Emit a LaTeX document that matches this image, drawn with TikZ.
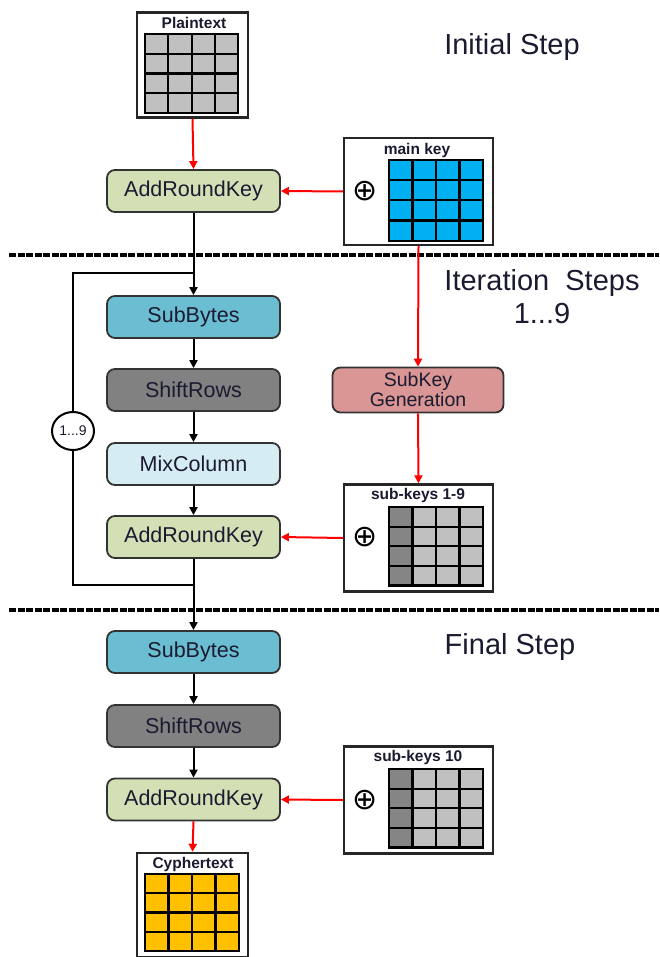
\documentclass[tikz,border=0pt]{standalone}
\usepackage{fontspec}
\setmainfont{Liberation Sans}
\newfontfamily\djv{DejaVu Sans}
\usetikzlibrary{arrows.meta,shapes.geometric}
\definecolor{arkc}{HTML}{D3E0B6}
\definecolor{sbc}{HTML}{6BBDD2}
\definecolor{src}{HTML}{818181}
\definecolor{mcc}{HTML}{D6ECF3}
\definecolor{skg}{HTML}{D99694}
\definecolor{bordc}{HTML}{333333}
\definecolor{cellg}{HTML}{C0C0C0}
\definecolor{celld}{HTML}{858585}
\definecolor{cellb}{HTML}{00B0F0}
\definecolor{cello}{HTML}{FFC000}
\definecolor{txtc}{HTML}{1A1A30}
\newcommand\kgrid[7]{% x0 y0 cellw cellh firstcol othercol
  \foreach \ci in {0,...,3}{\foreach \ri in {0,...,3}{
    \ifnum\ci=0 \def\cc{#5}\else\def\cc{#6}\fi
    \filldraw[fill=\cc,draw=black,line width=2.2pt] ({#1+\ci*#3},{#2+\ri*#4}) rectangle ++(#3,#4);
  }}}
\begin{document}
\begin{tikzpicture}[x=1pt,y=-1pt,
  box/.style={draw=bordc,line width=1.8pt,rounded corners=8pt,minimum width=173pt,minimum height=42pt,text=txtc,font=\fontsize{21.5}{24}\selectfont},
  kbox/.style={draw=black!85,line width=2.4pt,fill=white},
  blk/.style={line width=2pt,-{Triangle[length=8pt,width=8pt]}},
  rdl/.style={red,line width=2pt,-{Triangle[length=8pt,width=8pt]}},
  dashline/.style={line width=3.2pt,dash pattern=on 7pt off 1.5pt},
  ttl/.style={font=\fontsize{29}{32}\selectfont,text=txtc},
  klab/.style={font=\bfseries\fontsize{15.5}{17}\selectfont,text=txtc},
  xorsym/.style={font=\djv\fontsize{30}{30}\selectfont,inner sep=0pt}]
\useasboundingbox (0,0) rectangle (659,957);

% titles
\node[ttl] (t1) at (512,47) {Initial Step};
\node[ttl] (t2) at (542,283) {Iteration\ \ Steps};
\node[ttl] (t3) at (542,314) {1...9};
\node[ttl] (t4) at (510,647) {Final Step};

% plaintext
\node[kbox,minimum width=111pt,minimum height=105pt] (pt) at (192.5,65) {};
\node[klab] (ptl) at (194,23) {Plaintext};
\kgrid{145}{34}{23.3}{19.8}{cellg}{cellg}{}

% initial addroundkey
\node[box,fill=arkc] (ark1) at (193.5,191) {AddRoundKey};

% main key
\node[kbox,minimum width=149pt,minimum height=107pt] (mk) at (418.5,191.5) {};
\node[klab] (mkl) at (417,150) {main key};
\node[xorsym] (x1) at (365,191) {⊕};
\kgrid{389}{160}{23.5}{20.2}{cellb}{cellb}{}

\draw[rdl] (pt.south) -- (ark1.north);
\draw[rdl] (mk.west) -- (ark1.east);

% dashed separators
\coordinate (d1a) at (9,255); \coordinate (d1b) at (659,255);
\coordinate (d2a) at (9,610); \coordinate (d2b) at (659,610);
\draw[dashline] (d1a) -- (d1b);
\draw[dashline] (d2a) -- (d2b);

% iteration
\node[box,fill=sbc] (sb1) at (193.5,317) {SubBytes};
\node[box,fill=src] (sr1) at (193.5,390) {ShiftRows};
\node[box,fill=mcc] (mc1) at (193.5,464) {MixColumn};
\node[box,fill=arkc] (ark2) at (193.5,537) {AddRoundKey};

\node[box,fill=skg,minimum width=171pt,minimum height=45pt,font=\fontsize{19.5}{20}\selectfont,align=center] (skgen) at (418,390) {SubKey\\Generation};

\node[kbox,minimum width=149pt,minimum height=107pt] (sk1) at (418.5,538) {};
\node[klab] (sk1l) at (418,495) {sub-keys 1-9};
\node[xorsym] (x2) at (365,537) {⊕};
\kgrid{389}{507}{23.5}{19.6}{celld}{cellg}{}

\draw[blk] (ark1.south) -- (sb1.north);
\draw[blk] (sb1.south) -- (sr1.north);
\draw[blk] (sr1.south) -- (mc1.north);
\draw[blk] (mc1.south) -- (ark2.north);
\draw[rdl] (mk.south) -- (skgen.north);
\draw[rdl] (skgen.south) -- (sk1.north);
\draw[rdl] (sk1.west) -- (ark2.east);

% loop
\node[draw=black,line width=2pt,ellipse,fill=white,minimum width=42pt,minimum height=38pt,inner sep=0pt,font=\fontsize{14}{15}\selectfont,text=txtc] (cyc) at (73,431) {1...9};
\coordinate (lb) at (193.5,585);
\coordinate (lbl) at (73,585);
\coordinate (ltl) at (73,273);
\coordinate (lt) at (193.5,273);
\draw[line width=2pt] (lb) -- (lbl) -- (cyc.south);
\draw[line width=2pt] (cyc.north) -- (ltl) -- (lt);

% final
\node[box,fill=sbc] (sb2) at (193.5,652) {SubBytes};
\node[box,fill=src] (sr2) at (193.5,726) {ShiftRows};
\node[box,fill=arkc] (ark3) at (193.5,799.5) {AddRoundKey};

\draw[blk] (ark2.south) -- (sb2.north);
\draw[blk] (sb2.south) -- (sr2.north);
\draw[blk] (sr2.south) -- (ark3.north);

\node[kbox,minimum width=149pt,minimum height=107pt] (sk2) at (418.5,800) {};
\node[klab] (sk2l) at (418,757) {sub-keys 10};
\node[xorsym] (x3) at (365,800) {⊕};
\kgrid{389}{769}{23.5}{19.6}{celld}{cellg}{}
\draw[rdl] (sk2.west) -- (ark3.east);

% cyphertext
\node[kbox,minimum width=111pt,minimum height=104pt] (ct) at (192.5,905) {};
\node[klab] (ctl) at (193,864) {Cyphertext};
\kgrid{145}{874}{23.5}{19.2}{cello}{cello}{}
\draw[rdl] (ark3.south) -- (ct.north);
\end{tikzpicture}
\end{document}
